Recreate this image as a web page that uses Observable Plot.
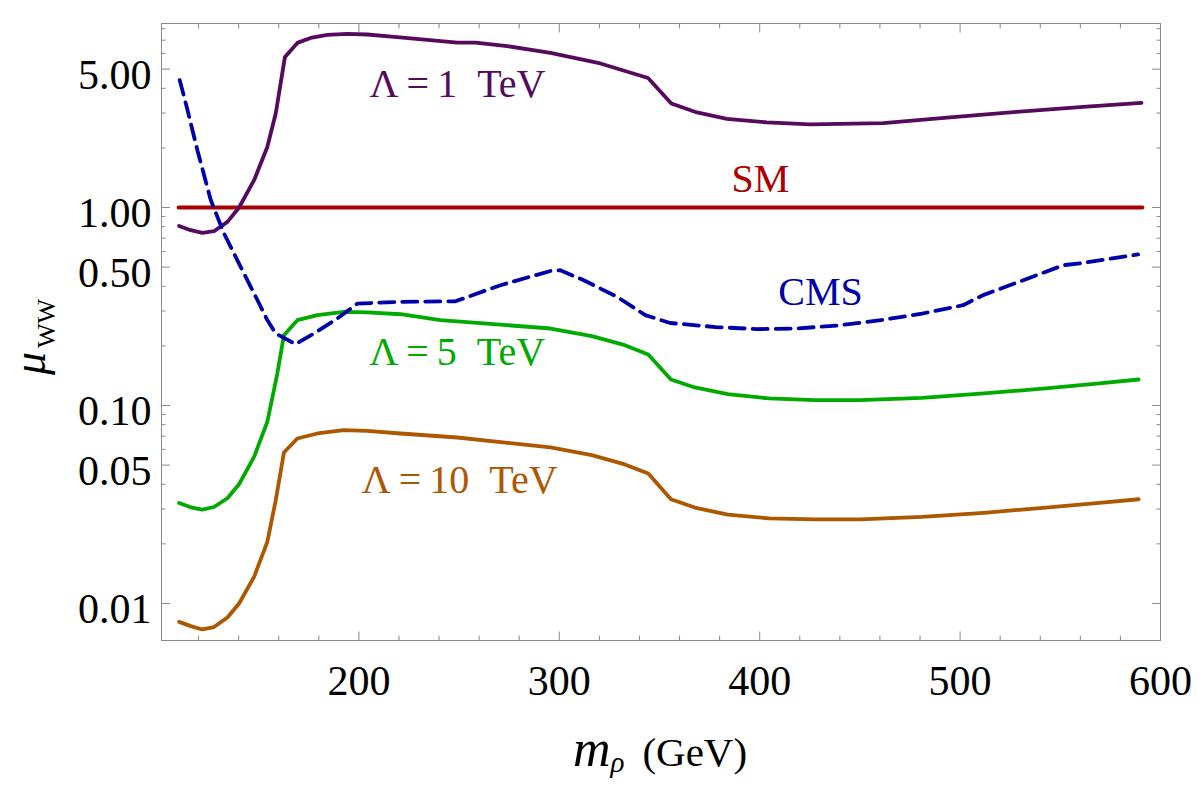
<!DOCTYPE html>
<html><head><meta charset="utf-8">
<script src="https://cdn.jsdelivr.net/npm/d3@7"></script>
<script src="https://cdn.jsdelivr.net/npm/@observablehq/plot@0.6"></script>
<style>
html,body{margin:0;padding:0;background:#fff;}
#chart{width:1200px;height:786px;}
</style></head><body><div id="chart"></div>
<script>
// ---- data ----
const massL1 = [110.3,116.1,121.9,127.7,134.4,140.2,147.7,154.3,158.5,163.1,169.3,175.9,184.2,194.2,204.2,219.1,249.1,258.2,274.0,295.6,320.5,344.3,355.9,368.7,383.6,403.6,425.2,461.7,495.0,528.2,561.4,590.5];
const muL1   = [0.807,0.768,0.744,0.759,0.846,1.0,1.374,2.023,2.984,5.764,6.783,7.189,7.44,7.53,7.48,7.25,6.81,6.81,6.53,6.04,5.34,4.51,3.35,3.02,2.80,2.69,2.63,2.67,2.85,3.04,3.22,3.38];

const massL5 = [110.3,116.1,121.9,127.7,134.4,140.2,147.7,154.3,159.3,162.6,169.3,179.3,192.5,204.2,220.8,240.7,295.6,316.2,332.7,344.4,355.7,367.6,384.1,404.7,427.4,450.1,481.0,511.9,542.8,569.5,589.1];
const muL5   = [0.0322,0.0306,0.0298,0.0307,0.0340,0.0400,0.055,0.0826,0.145,0.2265,0.2697,0.2858,0.297,0.295,0.289,0.270,0.2448,0.2239,0.2016,0.181,0.1353,0.1233,0.114,0.1085,0.1064,0.1064,0.1092,0.115,0.1219,0.1292,0.1353];

const massL10 = [110.3,116.1,121.9,127.7,134.4,140.2,147.7,154.3,158.5,162.6,169.3,179.3,192.5,204.2,220.8,249.1,295.6,316.2,332.7,344.4,355.7,367.6,384.1,404.7,427.4,450.1,481.0,511.9,542.8,569.5,589.1];
const muL10   = [0.00807,0.00768,0.00739,0.0076,0.0085,0.0100,0.01362,0.02047,0.0332,0.0579,0.0681,0.0722,0.075,0.0744,0.0722,0.0689,0.0614,0.0561,0.0504,0.0453,0.0336,0.0305,0.0281,0.0269,0.0266,0.0266,0.0274,0.0287,0.0305,0.0322,0.0336];

const massCMS = [110.6,114.5,119.4,126.1,132.7,141.0,149.4,154.3,158.5,168.4,177.6,189.2,199.2,220.8,248.2,270.6,295.6,300.5,312.2,328.8,342.9,355.3,378.0,398.6,419.1,439.8,460.4,481.0,501.5,511.5,531.5,551.4,561.4,588.8];
const muCMS   = [4.40,3.10,1.947,1.089,0.739,0.501,0.340,0.270,0.231,0.204,0.231,0.275,0.327,0.334,0.336,0.405,0.478,0.482,0.429,0.354,0.286,0.261,0.249,0.243,0.245,0.254,0.270,0.291,0.321,0.361,0.429,0.511,0.525,0.579];

const massSM = [110, 591];
const muSM   = [1, 1];

const xMajorTicks = [200, 300, 400, 500, 600];
const xMinorTicks = [120,140,160,180,220,240,260,280,320,340,360,380,420,440,460,480,520,540,560,580];
const yMajorTicks = [0.01, 0.05, 0.1, 0.5, 1, 5];
const yTickLabels = ["0.01", "0.05", "0.10", "0.50", "1.00", "5.00"];
const yMinorTicks = [0.02,0.03,0.04,0.06,0.07,0.08,0.09,0.2,0.3,0.4,0.6,0.7,0.8,0.9,2,3,4,6,7,8];

const annoText = ["\u039b\u2009=\u20091\u2002TeV", "\u039b\u2009=\u20095\u2002TeV", "\u039b\u2009=\u200910\u2002TeV", "SM", "CMS"];
const annoX    = [249.2, 249.0, 250.3, 400.4, 430.4];
const annoY    = [4.22, 0.1848, 0.0418, 1.387, 0.374];

// ---- styling ----
const serif = "'Liberation Serif', 'Times New Roman', serif";
const frameColor = "#8a8a8a";
const colors = {L1: "#560a5e", L5: "#00aa00", L10: "#ad5700", CMS: "#0000aa", SM: "#aa0000"};
const annoColors = [colors.L1, colors.L5, colors.L10, colors.SM, colors.CMS];

const rows = (xs, ys) => xs.map((x, i) => ({x, y: ys[i]}));
const lineOpts = (stroke, extra = {}) => ({x: "x", y: "y", stroke, strokeWidth: 3.8, strokeLinejoin: "round", curve: "linear", ...extra});

const tickMarks = [];
for (const anchor of ["bottom", "top"]) {
  tickMarks.push(Plot.axisX(xMinorTicks, {anchor, tickSize: -4.5, stroke: frameColor, fill: "none", label: null}));
  tickMarks.push(Plot.axisX(xMajorTicks, {anchor, tickSize: -8.5, stroke: frameColor, fill: "none", label: null}));
}
for (const anchor of ["left", "right"]) {
  tickMarks.push(Plot.axisY(yMinorTicks, {anchor, tickSize: -4.5, stroke: frameColor, fill: "none", label: null}));
  tickMarks.push(Plot.axisY(yMajorTicks, {anchor, tickSize: -9, stroke: frameColor, fill: "none", label: null}));
}

const annoMarks = annoText.map((t, i) => Plot.text([i], {
  x: () => annoX[i], y: () => annoY[i], text: () => t,
  fill: annoColors[i], fontSize: 40, fontFamily: serif, textAnchor: "middle", lineAnchor: "middle"
}));

const plot = Plot.plot({
  width: 1200, height: 786,
  marginTop: 23, marginBottom: 146, marginLeft: 161, marginRight: 40,
  style: {background: "#fff", fontFamily: serif},
  x: {domain: [101.5, 600]},
  y: {type: "log", domain: [0.0065, 8.5]},
  marks: [
    Plot.line(rows(massSM, muSM), lineOpts(colors.SM)),
    Plot.line(rows(massL1, muL1), lineOpts(colors.L1)),
    Plot.line(rows(massL5, muL5), lineOpts(colors.L5)),
    Plot.line(rows(massL10, muL10), lineOpts(colors.L10)),
    Plot.line(rows(massCMS, muCMS), lineOpts(colors.CMS, {strokeDasharray: "15,8"})),
    ...tickMarks,
    Plot.axisX(xMajorTicks, {anchor: "bottom", tickSize: 0, tickPadding: 25, stroke: "none", fill: "black",
      fontSize: 42, fontFamily: serif, label: null, tickFormat: d => String(d)}),
    Plot.axisY(yMajorTicks, {anchor: "left", tickSize: 0, tickPadding: 10, stroke: "none", fill: "black",
      fontSize: 42, fontFamily: serif, label: null, dy: 6,
      tickFormat: d => yTickLabels[yMajorTicks.indexOf(d)]}),
    ...annoMarks,
    Plot.frame({stroke: frameColor, strokeWidth: 1})
  ]
});

document.getElementById("chart").appendChild(plot);

// axis titles with sub-scripts (real text)
const svg = d3.select(plot);
const xt = svg.append("text")
  .attr("x", 660).attr("y", 766)
  .attr("text-anchor", "middle")
  .attr("font-family", serif).attr("fill", "black");
xt.append("tspan").attr("font-style", "italic").attr("font-size", 52).text("m");
xt.append("tspan").attr("font-style", "italic").attr("font-size", 29).attr("dy", 6).text("\u03c1");
xt.append("tspan").attr("font-size", 41).attr("dy", -6).attr("dx", 18).text("(GeV)");

const yt = svg.append("text")
  .attr("transform", "translate(45,337) rotate(-90)")
  .attr("text-anchor", "middle")
  .attr("font-family", serif).attr("fill", "black");
yt.append("tspan").attr("font-style", "italic").attr("font-size", 46).text("\u03bc");
yt.append("tspan").attr("font-size", 26).attr("dy", 10).attr("dx", 4).text("WW");
</script>
</body></html>
